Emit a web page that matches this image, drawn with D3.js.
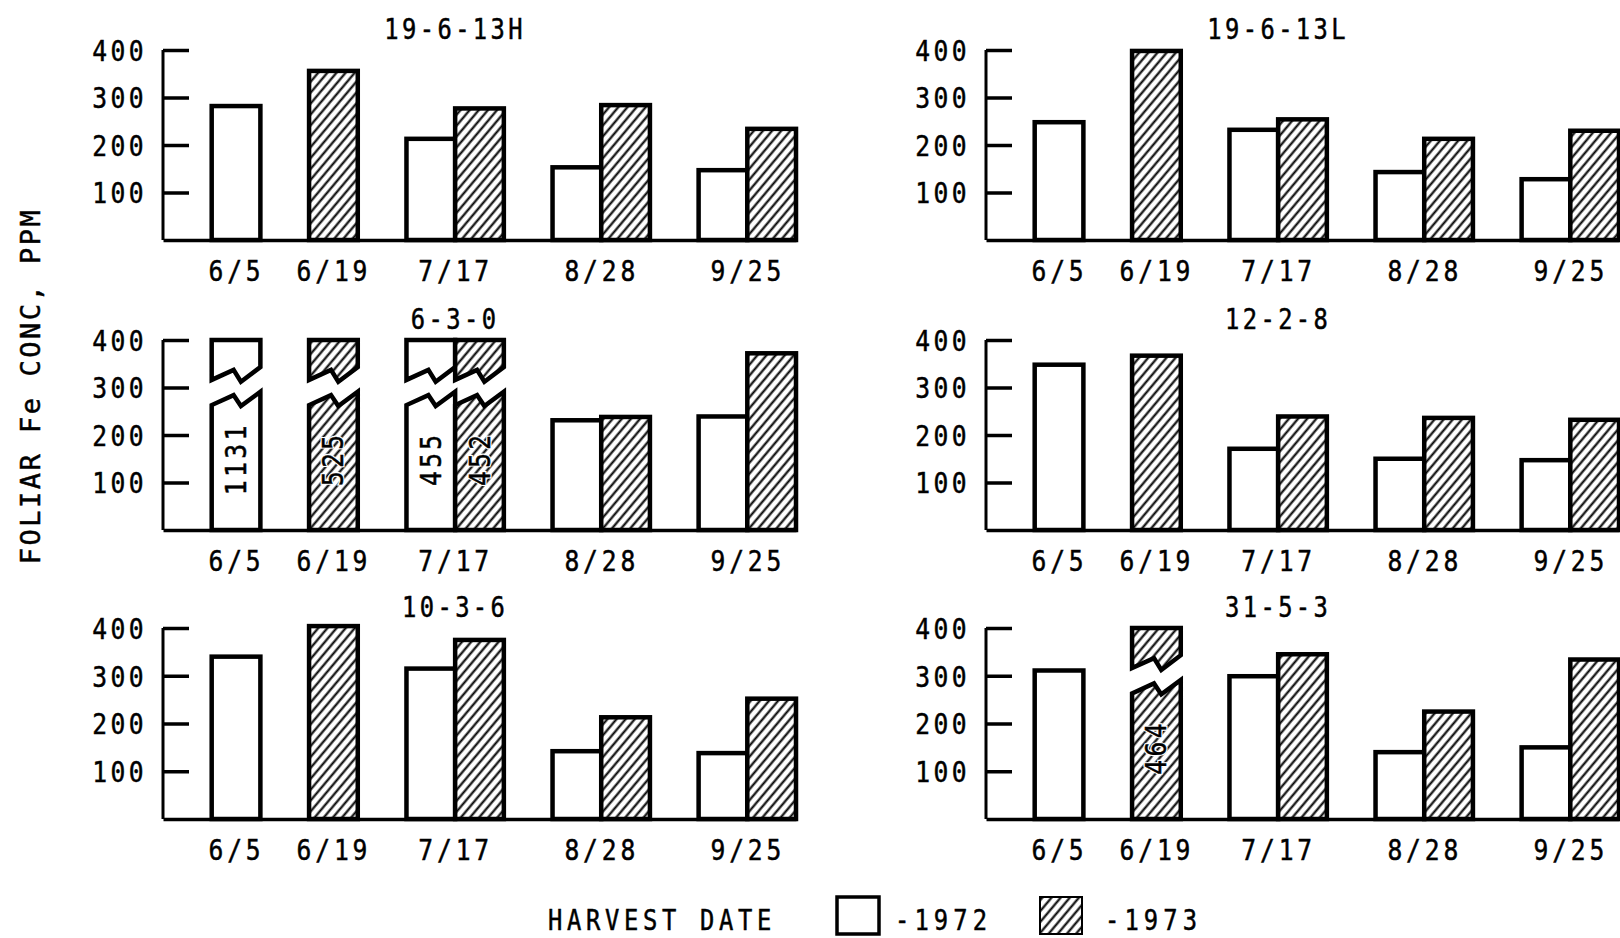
<!DOCTYPE html>
<html><head><meta charset="utf-8">
<script src="https://cdn.jsdelivr.net/npm/d3@7"></script>
<style>body{margin:0;background:#fff}svg{display:block}</style>
</head><body>
<svg id="c" width="1620" height="938"></svg>
<script>
// ---------------- data ----------------
const dates = ["6/5", "6/19", "7/17", "8/28", "9/25"];
const titles = ["19-6-13H", "19-6-13L", "6-3-0", "12-2-8", "10-3-6", "31-5-3"];
const yr1972_19613H = [282, null, 213, 153, 147];
const yr1973_19613H = [null, 356, 277, 284, 234];
const yr1972_19613L = [248, null, 232, 143, 128];
const yr1973_19613L = [null, 398, 254, 213, 230];
const yr1972_630 = [1131, null, 455, 231, 239];
const yr1973_630 = [null, 525, 452, 238, 372];
const yr1972_1228 = [348, null, 171, 150, 147];
const yr1973_1228 = [null, 367, 239, 236, 232];
const yr1972_1036 = [340, null, 315, 142, 138];
const yr1973_1036 = [null, 404, 375, 213, 252];
const yr1972_3153 = [311, null, 299, 140, 150];
const yr1973_3153 = [null, 464, 345, 225, 334];
const yTicks = [100, 200, 300, 400];
const legendLabels = ["-1972", "-1973"];
const yLabel = "FOLIAR Fe CONC, PPM";
const xLabel = "HARVEST DATE";

const panels = [
  {title: titles[0], a: yr1972_19613H, b: yr1973_19613H},
  {title: titles[1], a: yr1972_19613L, b: yr1973_19613L},
  {title: titles[2], a: yr1972_630, b: yr1973_630},
  {title: titles[3], a: yr1972_1228, b: yr1973_1228},
  {title: titles[4], a: yr1972_1036, b: yr1973_1036},
  {title: titles[5], a: yr1972_3153, b: yr1973_3153}
];

// ---------------- layout ----------------
const slotStart = [1, 3, 5, 8, 11];
const nSlots = 13;
const colX = [163, 986];
const plotW = 633;
const rowBase = [240, 530, 819];
const rowTop = [50, 340, 628];
const yMax = 400;
const breakAbove = 440;          // values beyond this are drawn with a break
const breakTopVal = 316, breakBotVal = 263;
const zigFrac = [0, 0.45, 0.6, 1];
const zigTop = [0, 21, -4, 27];
const zigBot = [0, 21, -2, 28];
const FONT = "'DejaVu Sans Mono', 'Liberation Mono', monospace";

const svg = d3.select("#c");
const defs = svg.append("defs");
const pat = defs.append("pattern").attr("id", "hatch")
  .attr("patternUnits", "userSpaceOnUse").attr("width", 7).attr("height", 20)
  .attr("patternTransform", "rotate(40)");
pat.append("rect").attr("width", 7).attr("height", 20).attr("fill", "#fff");
pat.append("line").attr("x1", 3.5).attr("x2", 3.5).attr("y1", -1).attr("y2", 21)
  .attr("stroke", "#000").attr("stroke-width", 2.1);

function label(parent, x, y, str, o) {
  const g = parent.append("g")
    .attr("transform", `translate(${x},${y})` + (o.rotate ? ` rotate(${o.rotate})` : ""));
  const layers = o.halo ? ["halo", "ink"] : ["ink"];
  let t;
  layers.forEach(layer => {
    t = g.append("text")
      .attr("transform", `scale(${o.sx || 0.85},1)`)
      .attr("text-anchor", o.anchor || "middle")
      .style("font-family", FONT)
      .style("font-size", o.size + "px")
      .style("letter-spacing", (o.ls || 0) + "px")
      .attr("fill", layer === "halo" ? "#fff" : "#000")
      .attr("stroke", layer === "halo" ? "#fff" : "#000")
      .attr("stroke-width", layer === "halo" ? 3 : 0.5)
      .text(str);
  });
  return t;
}

panels.forEach((p, k) => {
  const col = k % 2, row = Math.floor(k / 2);
  const x = d3.scaleLinear().domain([0, nSlots]).range([colX[col], colX[col] + plotW]);
  const y = d3.scaleLinear().domain([0, yMax]).range([rowBase[row], rowTop[row]]);
  const g = svg.append("g");

  // y axis
  const ya = g.append("g").attr("transform", `translate(${colX[col]},0)`)
    .call(d3.axisLeft(y).tickValues(yTicks).tickSizeInner(-26).tickSizeOuter(0).tickPadding(16));
  ya.select(".domain").attr("stroke-width", 3).attr("d", `M0,${y(yMax)}V${y(0)}`);
  ya.selectAll(".tick line").attr("stroke-width", 3.5);
  ya.selectAll(".tick text")
    .attr("x", -16 / 0.85).attr("dy", "0.36em")
    .attr("transform", "scale(0.85,1)")
    .attr("stroke", "#000").attr("stroke-width", 0.5)
    .style("font-family", FONT).style("font-size", "29px").style("letter-spacing", "4px");

  // x axis
  const centers = dates.map((d, i) => slotStart[i] + ((p.a[i] != null) + (p.b[i] != null)) / 2);
  const xa = g.append("g").attr("transform", `translate(0,${rowBase[row]})`)
    .call(d3.axisBottom(x).tickValues(centers).tickFormat((d, i) => dates[i]).tickSize(0).tickSizeOuter(0));
  xa.select(".domain").attr("stroke-width", 3.5);
  xa.selectAll(".tick text").attr("y", 41).attr("dy", 0)
    .attr("transform", "scale(0.85,1)")
    .attr("stroke", "#000").attr("stroke-width", 0.5)
    .style("font-family", FONT).style("font-size", "29px").style("letter-spacing", "4.5px");

  // title
  label(g, x(6), rowTop[row] - 11, p.title, {size: 28, ls: 4});

  // bars
  const bars = [];
  dates.forEach((d, i) => {
    if (p.a[i] != null) bars.push({slot: slotStart[i], v: p.a[i], yr: 0});
    if (p.b[i] != null) bars.push({slot: slotStart[i] + (p.a[i] != null ? 1 : 0), v: p.b[i], yr: 1});
  });
  bars.forEach(b => {
    const x0 = x(b.slot), x1 = x(b.slot + 1), w = x1 - x0;
    const fill = b.yr === 0 ? "#fff" : "url(#hatch)";
    const st = {stroke: "#000", "stroke-width": 4.5, "stroke-linejoin": "miter"};
    if (b.v <= breakAbove) {
      const r = g.append("rect").attr("x", x0).attr("y", y(b.v))
        .attr("width", w).attr("height", y(0) - y(b.v)).attr("fill", fill);
      Object.entries(st).forEach(([a, v]) => r.attr(a, v));
    } else {
      const top = [[x0, y(yMax)], [x1, y(yMax)]];
      for (let j = 3; j >= 0; j--) top.push([x0 + zigFrac[j] * w, y(breakTopVal + zigTop[j])]);
      const bot = [[x0, y(0)]];
      for (let j = 0; j < 4; j++) bot.push([x0 + zigFrac[j] * w, y(breakBotVal + zigBot[j])]);
      bot.push([x1, y(0)]);
      [top, bot].forEach(pts => {
        const pth = g.append("path").attr("d", d3.line()(pts) + "Z").attr("fill", fill);
        Object.entries(st).forEach(([a, v]) => pth.attr(a, v));
      });
      label(g, (x0 + x1) / 2 + 10, y(150), String(b.v),
        {size: 29, ls: 4, rotate: -90, halo: b.yr === 1});
    }
  });
});

// y label
label(svg, 40, 386, yLabel, {size: 27, ls: 2.5, sx: 1, rotate: -90});
// x label & legend
label(svg, 548, 930, xLabel, {size: 28, ls: 5.5, anchor: "start"});
const legY = 897, legH = 37, legW = 42;
[0, 1].forEach(i => {
  const lx = [837, 1040][i];
  svg.append("rect").attr("x", lx).attr("y", legY).attr("width", legW).attr("height", legH)
    .attr("fill", i === 0 ? "#fff" : "url(#hatch)").attr("stroke", "#000").attr("stroke-width", i === 0 ? 3.5 : 2);
  label(svg, [895, 1105][i], 930, legendLabels[i], {size: 28, ls: 6, anchor: "start"});
});
</script>
</body></html>
